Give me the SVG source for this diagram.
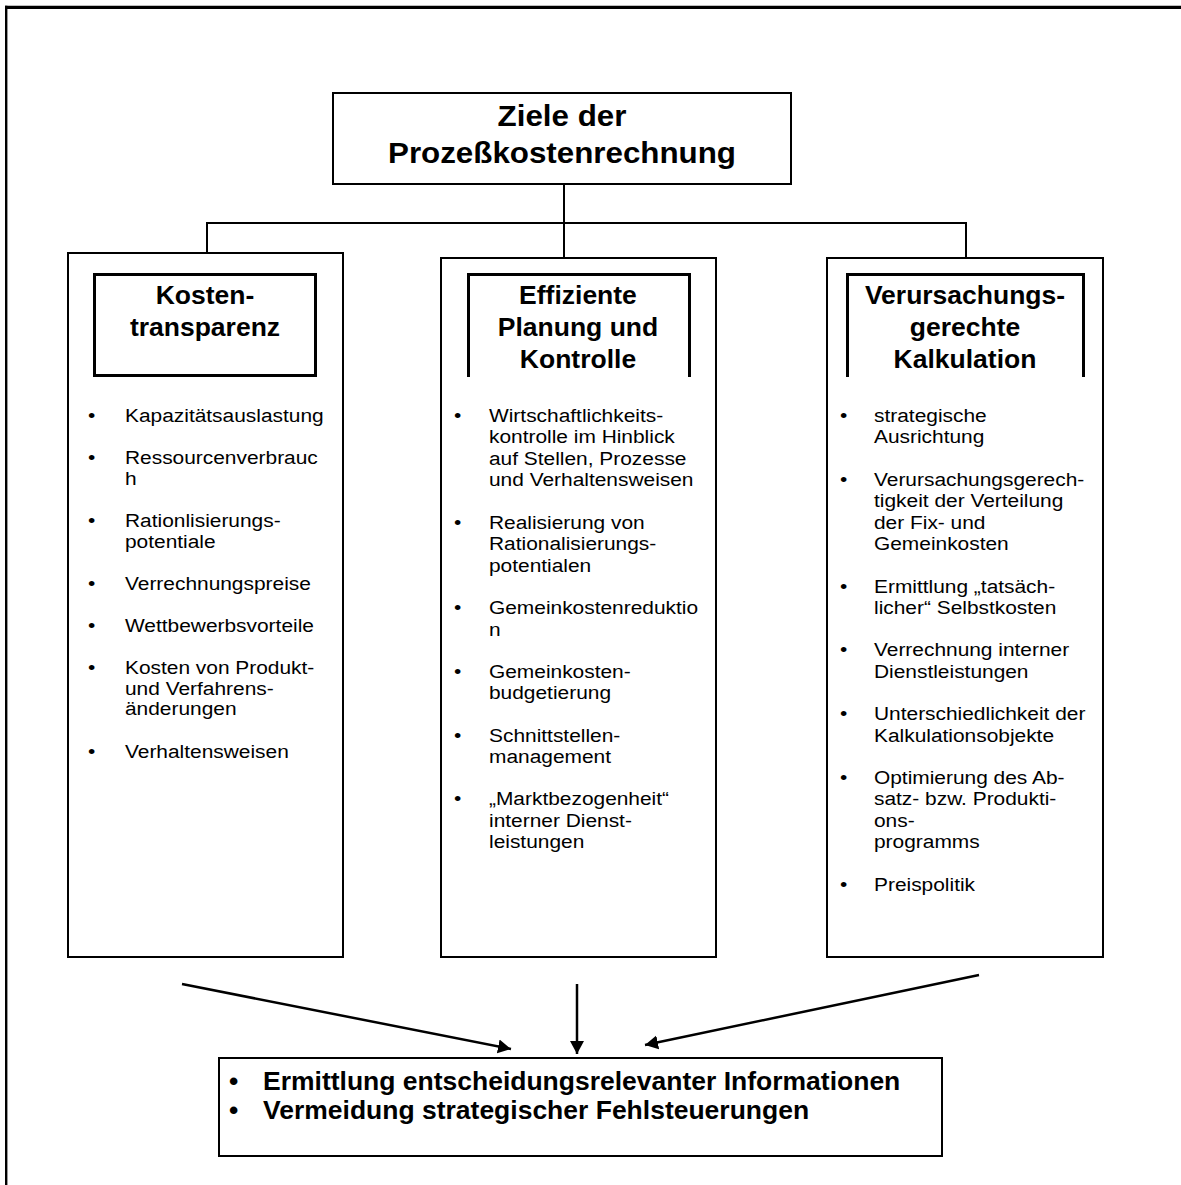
<svg xmlns="http://www.w3.org/2000/svg" width="1181" height="1185" viewBox="0 0 1181 1185">
<style>
text { font-family: "Liberation Sans", Arial, Helvetica, sans-serif; fill: #000; transform-box: fill-box; }
.s { transform-origin: 0% 50%; transform: scaleX(1.1); }
.m { text-anchor: middle; transform-origin: 50% 50%; }
.title { font-size: 29px; font-weight: bold; transform: scaleX(1.08); }
.hd { font-size: 25px; font-weight: bold; transform: scaleX(1.06); }
.body { font-size: 19px; }
.bot { font-size: 25px; font-weight: bold; transform-origin: 0% 50%; transform: scaleX(1.06); }
.box { fill: #fff; stroke: #000; stroke-width: 2; }
.hbox { fill: none; stroke: #000; stroke-width: 3; }
.ln { fill: none; stroke: #000; stroke-width: 2; }
.ar { fill: none; stroke: #000; stroke-width: 2.5; }
</style>
<defs>
<marker id="ah" markerUnits="userSpaceOnUse" markerWidth="14" markerHeight="16" refX="13" refY="8" orient="auto" viewBox="0 0 14 16">
<path d="M0,1 L13,8 L0,15 Z" fill="#000"/>
</marker>
</defs>
<rect width="1181" height="1185" fill="#fff"/>
<g id="frame">
<line x1="5" y1="7.3" x2="1181" y2="7.3" stroke="#000" stroke-width="3.3"/>
<line x1="6.2" y1="5.7" x2="6.2" y2="1185" stroke="#000" stroke-width="2.4"/>
</g>
<g id="connectors">
<line class="ln" x1="564" y1="184" x2="564" y2="258"/>
<line class="ln" x1="206" y1="223" x2="967" y2="223"/>
<line class="ln" x1="207" y1="223" x2="207" y2="253"/>
<line class="ln" x1="966" y1="223" x2="966" y2="258"/>
<line class="ar" x1="182" y1="984" x2="511" y2="1049" marker-end="url(#ah)"/>
<line class="ar" x1="577" y1="984" x2="577" y2="1054" marker-end="url(#ah)"/>
<line class="ar" x1="979" y1="975" x2="645" y2="1045" marker-end="url(#ah)"/>
</g>
<g id="ziele">
<rect class="box" x="333" y="93" width="458" height="91"/>
<text class="title m" x="562"><tspan x="562" y="126">Ziele der</tspan><tspan x="562" y="163">Prozeßkostenrechnung</tspan></text>
</g>
<g id="kostentransparenz">
<rect class="box" x="68" y="253" width="275" height="704"/>
<rect class="hbox" x="94.5" y="274.5" width="221" height="101"/>
<text class="hd m" x="205"><tspan x="205" y="304">Kosten-</tspan><tspan x="205" y="336">transparenz</tspan></text>
<g class="items">
<text class="body s" x="88" y="422">•</text><text class="body s" x="125" y="422">Kapazitätsauslastung</text>
<text class="body s" x="88" y="464.3">•</text><text class="body s" x="125"><tspan x="125" y="464.3">Ressourcenverbrauc</tspan><tspan x="125" y="484.8">h</tspan></text>
<text class="body s" x="88" y="527.1">•</text><text class="body s" x="125"><tspan x="125" y="527.1">Rationlisierungs-</tspan><tspan x="125" y="547.6">potentiale</tspan></text>
<text class="body s" x="88" y="589.9">•</text><text class="body s" x="125" y="589.9">Verrechnungspreise</text>
<text class="body s" x="88" y="632.2">•</text><text class="body s" x="125" y="632.2">Wettbewerbsvorteile</text>
<text class="body s" x="88" y="674.5">•</text><text class="body s" x="125"><tspan x="125" y="674.5">Kosten von Produkt-</tspan><tspan x="125" y="695">und Verfahrens-</tspan><tspan x="125" y="715.5">änderungen</tspan></text>
<text class="body s" x="88" y="757.8">•</text><text class="body s" x="125" y="757.8">Verhaltensweisen</text>
</g>
</g>
<g id="planung">
<rect class="box" x="441" y="258" width="275" height="699"/>
<path class="hbox" d="M468.5,377 V274.5 H689.5 V377"/>
<text class="hd m" x="578"><tspan x="578" y="304">Effiziente</tspan><tspan x="578" y="336">Planung und</tspan><tspan x="578" y="368">Kontrolle</tspan></text>
<g class="items">
<text class="body s" x="454" y="422">•</text><text class="body s" x="489"><tspan x="489" y="422">Wirtschaftlichkeits-</tspan><tspan x="489" y="443.5">kontrolle im Hinblick</tspan><tspan x="489" y="465">auf Stellen, Prozesse</tspan><tspan x="489" y="486.5">und Verhaltensweisen</tspan></text>
<text class="body s" x="454" y="528.8">•</text><text class="body s" x="489"><tspan x="489" y="528.8">Realisierung von</tspan><tspan x="489" y="550.3">Rationalisierungs-</tspan><tspan x="489" y="571.8">potentialen</tspan></text>
<text class="body s" x="454" y="614.1">•</text><text class="body s" x="489"><tspan x="489" y="614.1">Gemeinkostenreduktio</tspan><tspan x="489" y="635.6">n</tspan></text>
<text class="body s" x="454" y="677.9">•</text><text class="body s" x="489"><tspan x="489" y="677.9">Gemeinkosten-</tspan><tspan x="489" y="699.4">budgetierung</tspan></text>
<text class="body s" x="454" y="741.7">•</text><text class="body s" x="489"><tspan x="489" y="741.7">Schnittstellen-</tspan><tspan x="489" y="763.2">management</tspan></text>
<text class="body s" x="454" y="805.5">•</text><text class="body s" x="489"><tspan x="489" y="805.5">„Marktbezogenheit“</tspan><tspan x="489" y="827">interner Dienst-</tspan><tspan x="489" y="848.5">leistungen</tspan></text>
</g>
</g>
<g id="kalkulation">
<rect class="box" x="827" y="258" width="276" height="699"/>
<path class="hbox" d="M847.5,377 V274.5 H1083.5 V377"/>
<text class="hd m" x="965"><tspan x="965" y="304">Verursachungs-</tspan><tspan x="965" y="336">gerechte</tspan><tspan x="965" y="368">Kalkulation</tspan></text>
<g class="items">
<text class="body s" x="840" y="422">•</text><text class="body s" x="874"><tspan x="874" y="422">strategische</tspan><tspan x="874" y="443.5">Ausrichtung</tspan></text>
<text class="body s" x="840" y="485.8">•</text><text class="body s" x="874"><tspan x="874" y="485.8">Verursachungsgerech-</tspan><tspan x="874" y="507.3">tigkeit der Verteilung</tspan><tspan x="874" y="528.8">der Fix- und</tspan><tspan x="874" y="550.3">Gemeinkosten</tspan></text>
<text class="body s" x="840" y="592.6">•</text><text class="body s" x="874"><tspan x="874" y="592.6">Ermittlung „tatsäch-</tspan><tspan x="874" y="614.1">licher“ Selbstkosten</tspan></text>
<text class="body s" x="840" y="656.4">•</text><text class="body s" x="874"><tspan x="874" y="656.4">Verrechnung interner</tspan><tspan x="874" y="677.9">Dienstleistungen</tspan></text>
<text class="body s" x="840" y="720.2">•</text><text class="body s" x="874"><tspan x="874" y="720.2">Unterschiedlichkeit der</tspan><tspan x="874" y="741.7">Kalkulationsobjekte</tspan></text>
<text class="body s" x="840" y="784">•</text><text class="body s" x="874"><tspan x="874" y="784">Optimierung des Ab-</tspan><tspan x="874" y="805.5">satz- bzw. Produkti-</tspan><tspan x="874" y="827">ons-</tspan><tspan x="874" y="848.5">programms</tspan></text>
<text class="body s" x="840" y="890.8">•</text><text class="body s" x="874" y="890.8">Preispolitik</text>
</g>
</g>
<g id="ergebnis">
<rect class="box" x="219" y="1058" width="723" height="98" stroke-width="2.5"/>
<text class="bot" x="229" y="1090">•</text><text class="bot" x="263" y="1090">Ermittlung entscheidungsrelevanter Informationen</text>
<text class="bot" x="229" y="1119">•</text><text class="bot" x="263" y="1119">Vermeidung strategischer Fehlsteuerungen</text>
</g>
</svg>
